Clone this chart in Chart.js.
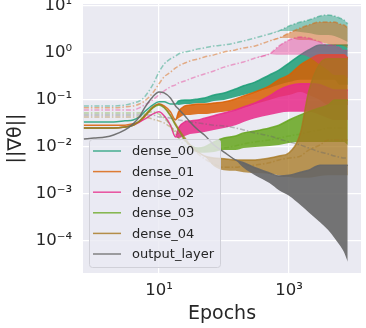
<!DOCTYPE html>
<html>
<head>
<meta charset="utf-8">
<script src="https://cdn.jsdelivr.net/npm/chart.js@4.4.0/dist/chart.umd.min.js"></script>
<style>
  body { margin: 0; background: #fff; }
</style>
</head>
<body>
<canvas id="chart" width="366" height="328"></canvas>
<script>
// epochs (x) shared by all series
const epochs = [0.7, 1, 1.5, 2, 3, 4, 5, 6, 8, 10, 12, 15, 18, 20, 25, 30, 40, 50, 70, 100, 150, 200, 300, 500, 700, 1000, 1500, 2000, 3000, 4000, 5000, 6000, 7000, 8000];

// solid lines: upper / lower envelope of the noisy gradient norm
const dense00Hi = [0.034,0.034,0.034,0.034,0.036,0.0375,0.0435,0.056,0.078,0.091,0.091,0.082,0.082,0.095,0.1,0.1,0.105,0.11,0.128,0.141,0.171,0.2,0.24,0.34,0.43,0.61,0.91,1.16,1.48,1.48,1.48,1.48,1.48,1.48];
const dense00Lo = [0.034,0.034,0.034,0.034,0.036,0.0375,0.0435,0.056,0.078,0.091,0.091,0.082,0.082,0.078,0.082,0.082,0.086,0.086,0.095,0.1,0.116,0.128,0.148,0.18,0.21,0.24,0.27,0.27,0.27,0.27,0.27,0.21,0.21,0.21];
const dense01Hi = [0.029,0.029,0.029,0.029,0.029,0.031,0.034,0.0435,0.068,0.082,0.0745,0.056,0.0375,0.056,0.0745,0.078,0.082,0.082,0.086,0.091,0.105,0.122,0.148,0.2,0.27,0.34,0.56,0.71,0.91,0.91,0.91,0.91,0.91,0.78];
const dense01Lo = [0.029,0.029,0.029,0.029,0.029,0.031,0.034,0.0435,0.068,0.082,0.0745,0.056,0.0375,0.041,0.048,0.048,0.05,0.05,0.053,0.056,0.061,0.068,0.082,0.1,0.116,0.128,0.148,0.128,0.1,0.078,0.078,0.078,0.078,0.078];
const dense02Hi = [0.0254,0.0254,0.0254,0.0254,0.0267,0.029,0.034,0.039,0.05,0.056,0.046,0.029,0.0163,0.0254,0.034,0.0357,0.0375,0.041,0.046,0.053,0.061,0.071,0.086,0.122,0.163,0.2,0.22,0.22,0.21,0.18,0.163,0.163,0.163,0.163];
const dense02Lo = [0.0254,0.0254,0.0254,0.0254,0.0267,0.029,0.034,0.039,0.05,0.056,0.046,0.029,0.0163,0.0155,0.0171,0.0189,0.0199,0.0209,0.023,0.0254,0.029,0.034,0.041,0.048,0.053,0.056,0.056,0.056,0.048,0.041,0.0375,0.0375,0.0375,0.0375];
const dense03Hi = [0.0254,0.0254,0.0254,0.0254,0.0267,0.029,0.0357,0.046,0.068,0.078,0.068,0.046,0.029,0.023,0.0141,0.011,0.0095,0.01,0.0128,0.0155,0.0171,0.0199,0.0219,0.0254,0.029,0.0375,0.048,0.056,0.068,0.078,0.1,0.1,0.1,0.1];
const dense03Lo = [0.0254,0.0254,0.0254,0.0254,0.0267,0.029,0.0357,0.046,0.068,0.078,0.068,0.046,0.029,0.023,0.0141,0.011,0.0075,0.0075,0.0078,0.0086,0.0086,0.0095,0.01,0.0105,0.011,0.0122,0.0128,0.0128,0.0128,0.0128,0.0128,0.0128,0.0128,0.011];
const dense04Hi = [0.0254,0.0254,0.0254,0.0254,0.0267,0.029,0.0357,0.046,0.071,0.082,0.071,0.048,0.031,0.0242,0.0155,0.011,0.0078,0.0064,0.0058,0.0056,0.0053,0.0053,0.0053,0.0058,0.0064,0.0075,0.02,0.15,0.6,0.75,0.75,0.75,0.75,0.75];
const dense04Lo = [0.0254,0.0254,0.0254,0.0254,0.0267,0.029,0.0357,0.046,0.071,0.082,0.071,0.048,0.031,0.0242,0.0155,0.011,0.0078,0.0064,0.0039,0.0032,0.0031,0.0029,0.0028,0.0027,0.0025,0.0023,0.0022,0.0022,0.0024,0.0025,0.0025,0.0025,0.0025,0.0025];
const outputHi = [0.0148,0.0155,0.0163,0.018,0.023,0.031,0.0435,0.068,0.116,0.148,0.141,0.11,0.0745,0.064,0.046,0.034,0.023,0.018,0.011,0.0078,0.0053,0.0046,0.0036,0.0028,0.0024,0.0025,0.0029,0.0032,0.0041,0.0041,0.0041,0.0041,0.0041,0.0041];
const outputLo = [0.0148,0.0155,0.0163,0.018,0.023,0.031,0.0435,0.068,0.116,0.148,0.141,0.11,0.0745,0.064,0.046,0.034,0.023,0.018,0.011,0.0078,0.0053,0.0036,0.0025,0.0017,0.0012,0.00091,0.00058,0.00041,0.00025,0.00017,0.000116,0.000082,0.000058,0.000036];

// dash-dot (light) lines
const dense00bHi = [0.0745,0.0745,0.0745,0.0745,0.078,0.086,0.095,0.116,0.21,0.39,0.58,0.745,0.86,0.95,1.05,1.1,1.22,1.28,1.41,1.48,1.63,1.8,2.08,2.54,2.94,3.75,4.57,5.04,6.12,6.43,6.12,5.55,5.04,4.14];
const dense00bLo = [0.0745,0.0745,0.0745,0.0745,0.078,0.086,0.095,0.116,0.21,0.39,0.58,0.745,0.86,0.95,1.05,1.1,1.22,1.28,1.41,1.48,1.63,1.8,2.08,2.54,2.94,2.94,2.8,2.66,2.41,2.41,2.3,2.08,1.89,1.71];
const dense01bHi = [0.068,0.068,0.068,0.068,0.071,0.0745,0.082,0.095,0.141,0.22,0.31,0.39,0.48,0.53,0.61,0.675,0.745,0.82,0.91,1.05,1.16,1.28,1.41,1.8,2.08,2.66,3.4,3.94,4.57,4.57,4.57,4.14,3.94,3.4];
const dense01bLo = [0.068,0.068,0.068,0.068,0.071,0.0745,0.082,0.095,0.141,0.22,0.31,0.39,0.48,0.53,0.61,0.675,0.745,0.82,0.91,1.05,1.16,1.28,1.41,1.8,2.08,2.08,1.89,1.89,1.71,1.55,1.48,1.48,1.41,1.28];
const dense02bHi = [0.061,0.061,0.061,0.061,0.061,0.061,0.068,0.078,0.1,0.128,0.155,0.19,0.21,0.23,0.254,0.28,0.324,0.357,0.414,0.5,0.58,0.64,0.78,0.95,1.41,1.89,2.19,2.08,1.71,1.48,1.48,1.28,1.16,1.16];
const dense02bLo = [0.061,0.061,0.061,0.061,0.061,0.061,0.068,0.078,0.1,0.128,0.155,0.19,0.21,0.23,0.254,0.28,0.324,0.357,0.414,0.5,0.58,0.64,0.78,0.95,0.91,0.91,0.91,0.82,0.56,0.43,0.34,0.34,0.34,0.29];
const dense03b = [0.053,0.053,0.053,0.053,0.053,0.053,0.053,0.053,0.056,0.05,0.041,0.029,0.0189,0.0155,0.0105,0.0091,0.0082,0.0082,0.0086,0.0095,0.0105,0.0116,0.0128,0.0141,0.0155,0.0171,0.0189,0.0209,0.023,0.0254,0.0254,0.0254,0.0254,0.0254];
const dense04b = [0.0435,0.0435,0.0435,0.0435,0.0435,0.0435,0.0435,0.0435,0.039,0.0357,0.0324,0.0267,0.0219,0.0189,0.0134,0.01,0.0071,0.0056,0.0043,0.0037,0.0037,0.0039,0.0041,0.0046,0.0053,0.0058,0.0064,0.0086,0.011,0.0141,0.0141,0.0141,0.0141,0.0141];
const outputb = [0.048,0.048,0.048,0.048,0.048,0.048,0.048,0.048,0.048,0.0435,0.0435,0.041,0.039,0.0375,0.0357,0.034,0.0324,0.031,0.029,0.028,0.0254,0.023,0.0199,0.0171,0.0148,0.0128,0.011,0.0095,0.0078,0.0071,0.0064,0.0061,0.0058,0.0058];

const layerNames = ['dense_00', 'dense_01', 'dense_02', 'dense_03', 'dense_04', 'output_layer'];
const layerColors = ['#1b9e77', '#d95f02', '#e7298a', '#66a61e', '#a6761d', '#666666'];
const yTicks = [1e-4, 1e-3, 1e-2, 1e-1, 1, 10];
const xTicks = [10, 1000];

function rgba(hex, a) {
  const n = parseInt(hex.slice(1), 16);
  return `rgba(${n >> 16},${(n >> 8) & 255},${n & 255},${a})`;
}
function pts(arr) {
  return epochs.map((e, i) => ({ x: e, y: arr[i] }));
}

let datasets = [];
let order = 100;
function band(label, color, alpha, hi, lo, dash) {
  datasets.push({
    label: label,
    data: pts(hi),
    borderColor: rgba(color, alpha),
    backgroundColor: rgba(color, alpha),
    borderWidth: 1.5,
    borderDash: dash,
    fill: '+1',
    pointRadius: 0,
    cubicInterpolationMode: 'monotone',
    order: order
  });
  datasets.push({
    label: label + '_lo',
    data: pts(lo),
    borderWidth: 0,
    borderColor: 'rgba(0,0,0,0)',
    fill: false,
    pointRadius: 0,
    cubicInterpolationMode: 'monotone',
    order: order
  });
  order--;
}

const dashDot = [5, 2, 1.5, 2];
band('dense_00', layerColors[0], 0.85, dense00Hi, dense00Lo, []);
band('dense_00b', layerColors[0], 0.45, dense00bHi, dense00bLo, dashDot);
band('dense_01', layerColors[1], 0.85, dense01Hi, dense01Lo, []);
band('dense_01b', layerColors[1], 0.45, dense01bHi, dense01bLo, dashDot);
band('dense_02', layerColors[2], 0.85, dense02Hi, dense02Lo, []);
band('dense_02b', layerColors[2], 0.4, dense02bHi, dense02bLo, dashDot);
band('dense_03', layerColors[3], 0.85, dense03Hi, dense03Lo, []);
band('dense_03b', layerColors[3], 0.4, dense03b, dense03b, dashDot);
band('dense_04', layerColors[4], 0.75, dense04Hi, dense04Lo, []);
band('dense_04b', layerColors[4], 0.4, dense04b, dense04b, dashDot);
band('output_layer', layerColors[5], 0.9, outputHi, outputLo, []);
band('output_layerb', layerColors[5], 0.4, outputb, outputb, dashDot);

const sup = { '0': '⁰', '1': '¹', '2': '²', '3': '³', '4': '⁴', '-': '⁻' };
function powLabel(v) {
  const e = String(Math.round(Math.log10(v)));
  return '10' + e.split('').map(c => sup[c]).join('');
}

// plot background (seaborn darkgrid)
const bgPlugin = {
  id: 'plotBg',
  beforeDraw(chart) {
    const a = chart.chartArea;
    chart.ctx.save();
    chart.ctx.fillStyle = '#eaeaf2';
    chart.ctx.fillRect(a.left, a.top, a.right - a.left, a.bottom - a.top);
    chart.ctx.restore();
  }
};

// legend box in the lower left of the plot
const legendPlugin = {
  id: 'boxLegend',
  afterDatasetsDraw(chart) {
    const ctx = chart.ctx;
    ctx.save();
    const x = 89.5, y = 139.5, w = 131, h = 128, r = 3;
    ctx.beginPath();
    ctx.moveTo(x + r, y);
    ctx.arcTo(x + w, y, x + w, y + h, r);
    ctx.arcTo(x + w, y + h, x, y + h, r);
    ctx.arcTo(x, y + h, x, y, r);
    ctx.arcTo(x, y, x + w, y, r);
    ctx.closePath();
    ctx.fillStyle = 'rgba(234,234,242,0.8)';
    ctx.fill();
    ctx.strokeStyle = '#d0d0d8';
    ctx.lineWidth = 1;
    ctx.stroke();
    ctx.font = '13px "DejaVu Sans"';
    ctx.textBaseline = 'middle';
    layerNames.forEach((name, i) => {
      const ly = 151 + i * 20.6;
      ctx.strokeStyle = rgba(layerColors[i], 0.8);
      ctx.lineWidth = 1.5;
      ctx.beginPath();
      ctx.moveTo(93, ly);
      ctx.lineTo(121, ly);
      ctx.stroke();
      ctx.fillStyle = '#262626';
      ctx.fillText(name, 132, ly + 1);
    });
    ctx.restore();
  }
};

Chart.defaults.font.family = '"DejaVu Sans"';
Chart.defaults.color = '#262626';

new Chart(document.getElementById('chart').getContext('2d'), {
  type: 'line',
  data: { datasets: datasets },
  options: {
    responsive: false,
    animation: false,
    devicePixelRatio: 1,
    layout: { padding: { left: 0, right: 5, top: 4, bottom: 0 } },
    plugins: {
      legend: { display: false },
      tooltip: { enabled: false }
    },
    scales: {
      x: {
        type: 'logarithmic',
        min: 0.678,
        max: 12800,
        afterBuildTicks: s => { s.ticks = xTicks.map(v => ({ value: v })); },
        afterFit: s => { s.height = 55; s.paddingLeft = 0; s.paddingRight = 0; },
        ticks: {
          autoSkip: false,
          maxRotation: 0,
          padding: 8,
          font: { size: 16.5 },
          color: '#262626',
          callback: v => powLabel(v)
        },
        grid: { color: '#ffffff', lineWidth: 1.2, drawTicks: false },
        border: { display: false },
        title: { display: true, text: 'Epochs', font: { size: 19 }, color: '#262626', padding: { top: 0, bottom: 3 } }
      },
      y: {
        type: 'logarithmic',
        min: 2.08e-5,
        max: 11,
        afterBuildTicks: s => { s.ticks = yTicks.map(v => ({ value: v })); },
        afterFit: s => { s.width = 83; s.paddingTop = 0; s.paddingBottom = 0; },
        ticks: {
          autoSkip: false,
          padding: 11,
          font: { size: 16.5 },
          color: '#262626',
          callback: v => powLabel(v)
        },
        grid: { color: '#ffffff', lineWidth: 1.2, drawTicks: false },
        border: { display: false },
        title: { display: true, text: '||∇θ||', font: { size: 19 }, color: '#262626', padding: { top: 5, bottom: 0 } }
      }
    }
  },
  plugins: [bgPlugin, legendPlugin]
});
</script>
</body>
</html>
